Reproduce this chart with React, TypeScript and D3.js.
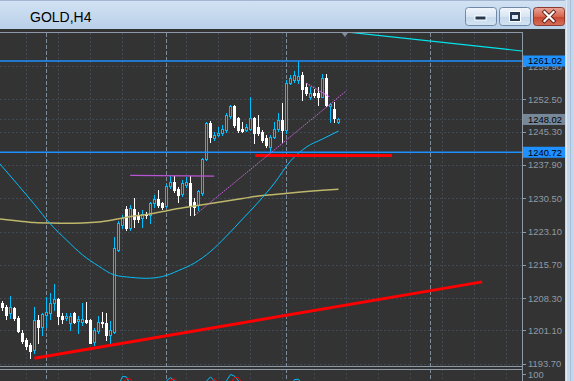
import React from 'react';
import * as d3 from 'd3';

const W = 574;
const H = 381;

// H4 bars, bar 0 = leftmost visible bar
const opens = [
  1207.1, 1206.4, 1204.9, 1206.0, 1203.8, 1200.6, 1199.0, 1197.9, 1196.7, 1203.4,
  1201.9, 1204.5, 1204.9, 1207.1, 1208.0, 1204.3, 1203.8, 1202.7, 1204.9, 1203.3,
  1203.0, 1203.4, 1203.4, 1198.6, 1201.0, 1203.0, 1202.7, 1200.1, 1200.8, 1219.0,
  1224.5, 1228.0, 1223.8, 1228.0, 1226.5, 1226.0, 1227.1, 1226.8, 1229.4, 1230.3,
  1229.4, 1228.8, 1233.2, 1234.0, 1232.5, 1231.4, 1233.4, 1233.8, 1229.7, 1229.0,
  1231.6, 1239.2, 1247.2, 1243.8, 1244.6, 1244.9, 1245.7, 1248.8, 1251.0, 1248.3,
  1245.8, 1245.7, 1246.0, 1248.3, 1246.4, 1245.3, 1243.8, 1241.9, 1244.2, 1245.8,
  1248.0, 1245.7, 1256.2, 1256.8, 1256.8, 1257.9, 1255.3, 1253.1, 1253.8, 1254.0,
  1253.1, 1257.2, 1251.0, 1250.3, 1247.5,
];
const highs = [
  1207.6, 1206.8, 1208.8, 1206.4, 1204.2, 1201.2, 1199.5, 1198.2, 1206.4, 1204.5,
  1205.0, 1208.5, 1209.4, 1211.4, 1208.2, 1204.9, 1204.9, 1204.9, 1205.3, 1204.2,
  1207.1, 1207.5, 1203.6, 1201.6, 1204.2, 1205.1, 1204.9, 1203.2, 1221.9, 1225.4,
  1226.8, 1228.8, 1229.0, 1230.5, 1227.4, 1227.9, 1227.5, 1229.7, 1231.2, 1232.3,
  1229.7, 1233.7, 1235.4, 1235.4, 1233.1, 1234.6, 1235.3, 1235.4, 1230.5, 1232.3,
  1239.4, 1247.5, 1247.7, 1245.3, 1246.4, 1246.8, 1249.4, 1251.2, 1251.2, 1248.6,
  1247.5, 1247.0, 1253.1, 1248.6, 1249.0, 1245.7, 1244.6, 1244.6, 1247.5, 1249.4,
  1251.6, 1256.8, 1257.9, 1258.9, 1261.0, 1258.6, 1256.1, 1255.3, 1254.7, 1255.3,
  1258.1, 1258.1, 1251.6, 1252.0, 1248.4,
];
const lows = [
  1205.6, 1203.6, 1203.8, 1203.4, 1200.7, 1198.2, 1196.9, 1195.0, 1196.1, 1198.4,
  1200.1, 1201.9, 1203.6, 1205.6, 1202.5, 1202.7, 1203.4, 1201.3, 1202.7, 1200.5,
  1202.3, 1202.7, 1198.2, 1197.9, 1200.5, 1201.9, 1199.0, 1198.2, 1200.5, 1218.8,
  1223.9, 1223.4, 1223.4, 1224.1, 1225.2, 1224.0, 1226.0, 1224.9, 1228.6, 1228.6,
  1228.2, 1228.5, 1232.8, 1231.9, 1229.7, 1231.0, 1233.0, 1226.8, 1226.8, 1227.9,
  1231.2, 1239.0, 1243.0, 1243.4, 1244.3, 1244.6, 1245.2, 1248.3, 1246.4, 1245.3,
  1245.3, 1245.4, 1245.7, 1242.7, 1244.6, 1243.1, 1241.9, 1240.8, 1243.8, 1245.4,
  1243.1, 1245.0, 1255.9, 1256.4, 1256.2, 1252.3, 1253.5, 1252.5, 1253.1, 1251.2,
  1253.0, 1250.9, 1247.5, 1247.5, 1247.2,
];
const closes = [
  1206.2, 1204.5, 1206.2, 1203.8, 1201.0, 1198.7, 1197.6, 1196.5, 1203.4, 1201.9,
  1204.7, 1205.3, 1207.1, 1208.0, 1204.2, 1203.6, 1204.2, 1204.3, 1203.0, 1203.6,
  1203.6, 1203.0, 1198.4, 1201.2, 1203.0, 1202.7, 1200.1, 1201.2, 1219.4, 1224.9,
  1226.0, 1223.8, 1228.3, 1225.8, 1225.8, 1227.0, 1226.8, 1229.4, 1230.3, 1229.0,
  1228.6, 1233.2, 1234.0, 1232.3, 1231.2, 1233.8, 1234.0, 1229.0, 1228.6, 1232.0,
  1239.2, 1247.2, 1244.2, 1244.6, 1245.1, 1245.8, 1249.0, 1251.0, 1246.8, 1245.7,
  1245.5, 1246.4, 1248.3, 1244.9, 1244.9, 1243.4, 1242.3, 1244.2, 1246.0, 1248.0,
  1245.7, 1256.2, 1257.2, 1257.9, 1257.7, 1254.9, 1253.8, 1253.8, 1253.5, 1253.1,
  1257.2, 1251.2, 1251.4, 1248.3, 1248.02,
];

// moving averages: [bar, price]
const fastMA: [number, number][] = [
  [-1, 1238.5], [4, 1233.32], [8, 1229.1], [12, 1224.76], [16, 1221.2], [20, 1217.9],
  [24, 1215.42], [28, 1213.42], [32, 1212.91], [36, 1212.69], [40, 1213.09], [44, 1214.42],
  [48, 1216.09], [52, 1218.65], [56, 1222.09], [60, 1225.87], [64, 1229.66], [68, 1233.88],
  [72, 1238.77], [76, 1241.89], [80, 1243.67], [84, 1245.45],
];
const slowMA: [number, number][] = [
  [-1, 1225.9], [4, 1225.43], [8, 1225.1], [12, 1224.98], [16, 1224.92], [20, 1224.98],
  [24, 1225.21], [28, 1225.76], [32, 1226.43], [36, 1226.88], [40, 1227.54], [44, 1228.21],
  [48, 1228.77], [52, 1229.32], [56, 1229.88], [60, 1230.43], [64, 1230.99], [68, 1231.32],
  [72, 1231.66], [76, 1231.99], [80, 1232.26], [84, 1232.48],
];
const shiftedMA: [number, number][] = [[86, 1267.47], [130, 1263.23]];

// drawn objects: [bar, price]
const supportTrend: [number, number][] = [[8.0, 1194.9], [119.9, 1211.9]];
const supportLevel: [number, number][] = [[63.2, 1240.0], [97.4, 1240.0]];
const rangeTop: [number, number][] = [[31.9, 1235.6], [52.9, 1235.4]];
const risingTrend: [number, number][] = [[48.1, 1226.76], [85.9, 1254.34]];
const fallingTrend: [number, number][] = [[76.0, 1256.05], [81.7, 1253.08]];
const blueLevels = [1261.02, 1240.72];
const bidPrice = 1248.02;

const priceTicks = [1259.9, 1252.5, 1245.3, 1237.9, 1230.5, 1223.1, 1215.7, 1208.3, 1201.1, 1193.7];
const separatorBars = [11, 41, 71, 107];
const gridBars = [6, 14, 22, 30, 38, 46, 54, 62, 70, 78, 86, 94, 102, 110, 118, 126];
const shiftBar = 85.6;

// oscillator peaks visible in the sub-window: [bar, value]
const oscMain: [number, number][][] = [
  [[29, 86], [30, 97.5], [31, 97], [32, 86]],
  [[40, 84], [41, 92], [42, 96], [43, 92], [44, 84]],
  [[50, 85], [51, 91.5], [52, 97], [53, 91.5], [54, 85]],
  [[55, 85], [56, 92], [57, 100], [58, 98], [59, 92], [60, 84]],
  [[72, 84], [73, 93.5], [74, 94], [75, 86]],
];
const oscSignal: [number, number][][] = [
  [[30, 88], [31, 95], [32, 94], [33, 86]],
  [[41, 86], [42, 93], [43, 94.5], [44, 88]],
  [[52, 88], [53, 95], [54, 88]],
  [[57, 88], [58, 96], [59, 96], [60, 88]],
];

const BG = '#333333';
const BULL = '#00bfff';
const BEAR = '#ffffff';
const FRAME = '#8d99a6';
const AXIS_TEXT = '#8e9aa6';
const FONT = '"Liberation Sans", Arial, sans-serif';

export default function App() {
  const x = d3.scaleLinear().domain([0, 130]).range([2.5, 522.5]);
  const y = d3.scaleLinear().domain([1193.7, 1252.5]).range([363.7, 99.3]);
  const yo = d3.scaleLinear().domain([0, 100]).range([452.8, 374.5]);
  const straight = d3.line<[number, number]>().x((d) => x(d[0])).y((d) => y(d[1]));
  const smooth = d3
    .line<[number, number]>()
    .x((d) => x(d[0]))
    .y((d) => y(d[1]))
    .curve(d3.curveMonotoneX);
  const osc = d3.line<[number, number]>().x((d) => x(d[0])).y((d) => yo(d[1]));

  const candles = opens.map((o, i) => {
    const c = closes[i];
    const cx = Math.round(x(i) - 0.5) + 0.5;
    const up = c >= o;
    const top = Math.round(y(Math.max(o, c)));
    const bot = Math.round(y(Math.min(o, c)));
    const yh = Math.round(y(highs[i]));
    const yl = Math.round(y(lows[i]));
    if (up) {
      return (
        <g key={i}>
          {yh < top && <line x1={cx} x2={cx} y1={yh} y2={top} stroke={BULL} />}
          {yl > bot && <line x1={cx} x2={cx} y1={bot + 1} y2={yl + 1} stroke={BULL} />}
          {bot - top >= 1 ? (
            <rect x={cx - 1} y={top + 0.5} width={2} height={bot - top} fill={BG} stroke={BULL} />
          ) : (
            <line x1={cx - 1.5} x2={cx + 1.5} y1={top + 0.5} y2={top + 0.5} stroke={BULL} />
          )}
        </g>
      );
    }
    return (
      <g key={i}>
        <line x1={cx} x2={cx} y1={yh} y2={yl + 1} stroke={BEAR} />
        <rect x={cx - 1.5} y={top} width={3} height={Math.max(1, bot - top + 1)} fill={BEAR} />
      </g>
    );
  });

  return (
    <svg
      width={W}
      height={H}
      viewBox={`0 0 ${W} ${H}`}
      style={{ position: 'absolute', left: 0, top: 0, display: 'block' }}
    >
      <defs>
        <linearGradient id="titleGrad" x1="0" y1="0" x2="0" y2="1">
          <stop offset="0" stopColor="#d2e2f3" />
          <stop offset="1" stopColor="#b9d0e9" />
        </linearGradient>
        <linearGradient id="btnGrad" x1="0" y1="0" x2="0" y2="1">
          <stop offset="0" stopColor="#f1f6fb" />
          <stop offset="0.5" stopColor="#d9e5f2" />
          <stop offset="0.51" stopColor="#c6d8ec" />
          <stop offset="1" stopColor="#d3e3f3" />
        </linearGradient>
        <linearGradient id="closeGrad" x1="0" y1="0" x2="0" y2="1">
          <stop offset="0" stopColor="#eaa799" />
          <stop offset="0.5" stopColor="#d7664f" />
          <stop offset="0.51" stopColor="#c7452e" />
          <stop offset="1" stopColor="#d8705a" />
        </linearGradient>
        <clipPath id="mainClip">
          <rect x={0} y={33} width={522} height={333} />
        </clipPath>
        <clipPath id="subClip">
          <rect x={0} y={370} width={522} height={11} />
        </clipPath>
      </defs>

      <rect x={0} y={0} width={W} height={H} fill={BG} />

      {/* window title bar */}
      <rect x={0} y={0} width={W} height={29} fill="url(#titleGrad)" />
      <line x1={0} x2={W} y1={0.5} y2={0.5} stroke="#a3b8cf" />
      <text x={30} y={22} fontFamily={FONT} fontSize={14} fill="#000">
        GOLD,H4
      </text>
      <rect x={465.5} y={7.5} width={31} height={18} rx={3} fill="url(#btnGrad)" stroke="#7189a6" />
      <rect x={474.5} y={15.5} width={12} height={5} fill="#ffffff" />
      <rect x={475.5} y={16.5} width={10} height={3} fill="#25384f" />
      <rect x={499.5} y={7.5} width={31} height={18} rx={3} fill="url(#btnGrad)" stroke="#7189a6" />
      <rect x={509} y={11} width={12} height={11} fill="#ffffff" />
      <rect x={510} y={12} width={10} height={9} fill="#25384f" />
      <rect x={512} y={15} width={6} height={4} fill="#dce7f3" />
      <rect x={533.5} y={7.5} width={31} height={18} rx={3} fill="url(#closeGrad)" stroke="#8b3b30" />
      <path d="M544.5,12 L553.5,21 M553.5,12 L544.5,21" stroke="#5b2119" strokeWidth={4} strokeLinecap="square" />
      <path d="M544.5,12 L553.5,21 M553.5,12 L544.5,21" stroke="#ffffff" strokeWidth={2.2} strokeLinecap="square" />

      {/* right window frame */}
      <rect x={565} y={0} width={9} height={H} fill="#c3d6eb" />
      <line x1={566.5} x2={566.5} y1={0} y2={H} stroke="#e1ebf6" />
      <line x1={570.5} x2={570.5} y1={0} y2={H} stroke="#a9bfd7" />

      {/* faint grid */}
      <g stroke="#404a55" strokeDasharray="2,2" shapeRendering="crispEdges">
        {priceTicks.map((t) => (
          <line key={t} x1={0} x2={522} y1={Math.round(y(t)) + 0.5} y2={Math.round(y(t)) + 0.5} />
        ))}
        {gridBars.map((b) => (
          <line key={b} x1={x(b)} x2={x(b)} y1={33} y2={H} />
        ))}
        <line x1={0} x2={522} y1={Math.round(y(bidPrice)) + 0.5} y2={Math.round(y(bidPrice)) + 0.5} />
      </g>
      {/* period separators */}
      <g stroke="#7e8c9a" strokeDasharray="4,2" shapeRendering="crispEdges">
        {separatorBars.map((b) => (
          <line key={b} x1={x(b)} x2={x(b)} y1={33} y2={H} />
        ))}
      </g>

      <g clipPath="url(#mainClip)">
        <g shapeRendering="crispEdges">{candles}</g>
        <path d={smooth(slowMA) ?? ''} fill="none" stroke="#bdb76b" strokeWidth={1.5} />
        <path d={smooth(fastMA) ?? ''} fill="none" stroke={BULL} strokeWidth={1} />
        <path d={straight(shiftedMA) ?? ''} fill="none" stroke="#00e5ee" strokeWidth={1.2} />
        {blueLevels.map((p) => (
          <line key={p} x1={0} x2={522} y1={y(p)} y2={y(p)} stroke="#1e90ff" strokeWidth={1.3} />
        ))}
        <path d={straight(supportTrend) ?? ''} fill="none" stroke="#ff0000" strokeWidth={3} />
        <path d={straight(supportLevel) ?? ''} fill="none" stroke="#ff0000" strokeWidth={3} />
        <path d={straight(rangeTop) ?? ''} fill="none" stroke="#b955d4" strokeWidth={1.2} />
        <path d={straight(risingTrend) ?? ''} fill="none" stroke="#cc66dd" strokeWidth={1} strokeDasharray="1.5,1" />
        <path d={straight(fallingTrend) ?? ''} fill="none" stroke="#c25bd8" strokeWidth={1.2} strokeDasharray="1.5,1" />
      </g>

      {/* oscillator sub-window */}
      <g clipPath="url(#subClip)">
        {oscMain.map((s, i) => (
          <path key={'m' + i} d={osc(s) ?? ''} fill="none" stroke={BULL} strokeWidth={1} />
        ))}
        {oscSignal.map((s, i) => (
          <path key={'s' + i} d={osc(s) ?? ''} fill="none" stroke="#ff0000" strokeWidth={1} />
        ))}
      </g>

      {/* frames */}
      <g stroke={FRAME} shapeRendering="crispEdges">
        <line x1={0} x2={523} y1={32.5} y2={32.5} />
        <line x1={522.5} x2={522.5} y1={32} y2={H} />
        <line x1={0} x2={523} y1={366.5} y2={366.5} />
        <line x1={0} x2={523} y1={369.5} y2={369.5} />
      </g>
      <path
        d={`M${x(shiftBar) - 3},33 L${x(shiftBar) + 3},33 L${x(shiftBar)},37 Z`}
        fill="#7e8c9a"
      />

      {/* price axis */}
      <g fontFamily={FONT} fontSize={9.4} fill={AXIS_TEXT}>
        {priceTicks.map((t) => (
          <g key={t}>
            <line x1={522} x2={526} y1={Math.round(y(t)) + 0.5} y2={Math.round(y(t)) + 0.5} stroke={FRAME} />
            <text x={528} y={y(t)} dominantBaseline="central">
              {t.toFixed(2)}
            </text>
          </g>
        ))}
        <line x1={522} x2={526} y1={374.5} y2={374.5} stroke={FRAME} />
        <text x={528} y={374.8} dominantBaseline="central">
          100
        </text>
      </g>
      <g fontFamily={FONT} fontSize={9.4}>
        {blueLevels.map((p) => (
          <g key={p}>
            <rect x={523} y={y(p) - 5.5} width={42} height={11} fill="#1e90ff" />
            <text x={528} y={y(p)} dominantBaseline="central" fill="#000">
              {p.toFixed(2)}
            </text>
          </g>
        ))}
        <rect x={523} y={y(bidPrice) - 5.5} width={42} height={11} fill="#778899" />
        <text x={528} y={y(bidPrice)} dominantBaseline="central" fill="#000">
          {bidPrice.toFixed(2)}
        </text>
      </g>
    </svg>
  );
}
